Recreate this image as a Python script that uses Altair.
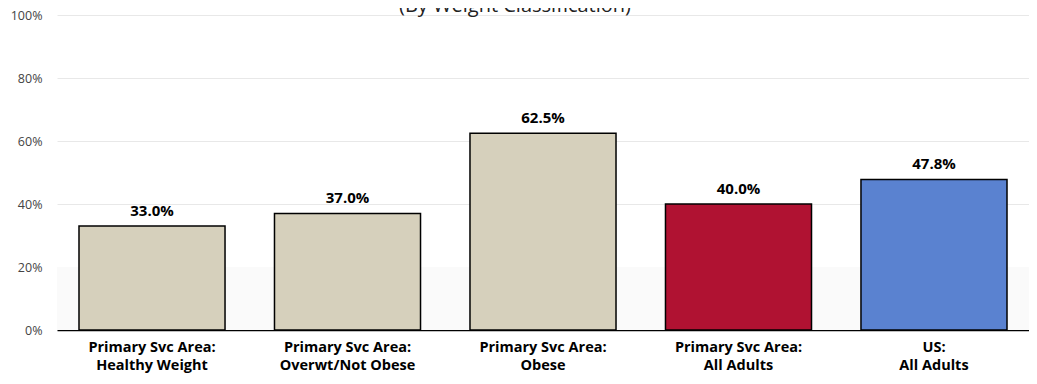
import altair as alt
import pandas as pd

categories = [
    "Primary Svc Area:\nHealthy Weight",
    "Primary Svc Area:\nOverwt/Not Obese",
    "Primary Svc Area:\nObese",
    "Primary Svc Area:\nAll Adults",
    "US:\nAll Adults",
]
values = [33.0, 37.0, 62.5, 40.0, 47.8]
bar_colors = ["#d6d0bc", "#d6d0bc", "#d6d0bc", "#b01232", "#5a82d0"]
y_ticks = [0, 20, 40, 60, 80, 100]
band_range = [0, 20]
title_text = "(By Weight Classification)"

FONT = "Open Sans"
W, H = 972, 315

df = pd.DataFrame({"cat": categories, "value": values})
band_df = pd.DataFrame({"y0": [band_range[0]], "y1": [band_range[1]]})
title_df = pd.DataFrame({"t": [title_text]})

x_enc = alt.X(
    "cat:N",
    sort=categories,
    scale=alt.Scale(paddingInner=0.253, paddingOuter=0.1125),
    axis=alt.Axis(
        title=None,
        labelAngle=0,
        labelExpr="split(datum.label, '\\n')",
        labelFont=FONT,
        labelFontSize=14.5,
        labelFontWeight="bold",
        labelColor="#000000",
        labelLineHeight=18,
        labelPadding=10,
        ticks=False,
        domain=True,
        domainColor="#000000",
        domainWidth=1.5,
        grid=False,
    ),
)
y_scale = alt.Scale(domain=[0, 100], nice=False)

band = alt.Chart(band_df).mark_rect(color="#fafafa").encode(
    x=alt.value(0),
    x2=alt.value(W),
    y=alt.Y("y0:Q", scale=y_scale),
    y2="y1:Q",
)

bars = alt.Chart(df).mark_bar(stroke="#000000", strokeWidth=1.5).encode(
    x=x_enc,
    y=alt.Y(
        "value:Q",
        scale=y_scale,
        axis=alt.Axis(
            title=None,
            values=y_ticks,
            labelExpr="datum.value + '%'",
            labelFont=FONT,
            labelFontSize=12.5,
            labelColor="#444444",
            labelPadding=15,
            ticks=False,
            domain=False,
            grid=True,
            gridColor="#e8e8e8",
            gridWidth=1,
        ),
    ),
    color=alt.Color(
        "cat:N",
        scale=alt.Scale(domain=categories, range=bar_colors),
        legend=None,
    ),
)

labels = alt.Chart(df).transform_calculate(
    lbl="format(datum.value, '.1f') + '%'"
).mark_text(
    font=FONT, fontSize=15, fontWeight="bold", color="#000000",
    baseline="bottom", dy=-7,
).encode(
    x=alt.X("cat:N", sort=categories),
    y=alt.Y("value:Q", scale=y_scale),
    text="lbl:N",
)

title = alt.Chart(title_df).mark_text(
    font=FONT, fontSize=20, color="#222222", align="center", baseline="alphabetic",
).encode(
    x=alt.value(458),
    y=alt.value(-3),
    text="t:N",
)

chart = alt.layer(band, bars, labels, title).properties(
    width=W,
    height=H,
    autosize=alt.AutoSizeParams(type="none"),
    padding={"left": 49, "top": 7, "right": 0, "bottom": 46},
    background="#ffffff",
).configure_view(stroke=None)

chart.save("out.html", embed_options={"renderer": "svg", "actions": False})
